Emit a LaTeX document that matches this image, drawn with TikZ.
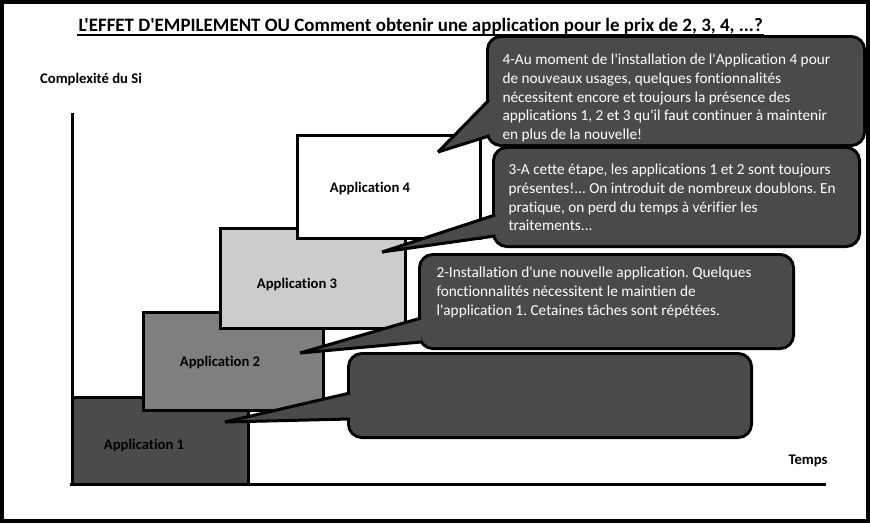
\documentclass[tikz,border=0pt]{standalone}
\usepackage{fontspec}
\setmainfont{Carlito}[Ligatures={TeXOff,NoCommon}]
\usetikzlibrary{calc}
\frenchspacing

\definecolor{gris1}{HTML}{4B4B4B}
\definecolor{gris2}{HTML}{7F7F7F}
\definecolor{gris3}{HTML}{CCCCCC}
\definecolor{bulle}{HTML}{4A4A4A}

\tikzset{
  appbox/.style={draw=black, line width=3pt},
  applabel/.style={font=\bfseries\fontsize{14.67}{17.9}\selectfont, inner sep=0pt},
  bulletext/.style={text=white, font=\fontsize{15.3}{18.7}\selectfont, align=left, anchor=north west, inner sep=0pt},
}

% bulle : x1, y1, x2, y2, haut de la pointe, bas de la pointe, pointe
\newcommand{\bulle}[7]{%
  \draw[line width=6pt, rounded corners=12pt] (#1,#2) rectangle (#3,#4);
  \fill[bulle, rounded corners=12pt] (#1,#2) rectangle (#3,#4);
  \fill[bulle] (#1,#5) -- (#7) -- (#1,#6) -- cycle;
  \draw (#7) -- (#1,#5); \draw (#7) -- (#1,#6);}

\begin{document}
\begin{tikzpicture}[x=1pt, y=-1pt, line width=3pt]
\useasboundingbox (0,0) rectangle (870,523);
\draw[line width=4pt] (2,2) rectangle (868,521);

\node[font=\bfseries\fontsize{18.95}{22}\selectfont, anchor=base west, inner sep=0pt] (titre) at (77,31) {L'EFFET D'EMPILEMENT OU Comment obtenir une application pour le prix de 2, 3, 4, ...?};
\draw[line width=2pt] ($(titre.base west)+(0,3.5)$) -- ($(titre.base east)+(0,3.5)$);

% axes
\coordinate (origine) at (72,484);
\draw ($(origine)+(-2,0)$) -- (826,484);
\draw (origine) -- (72,113);
\node[applabel] (axey) at (91,80) {Complexité du Si};
\node[applabel] (axex) at (808,461) {Temps};

% applications empilees
\foreach \n/\xa/\ya/\xb/\yb/\col/\lx/\ly in {1/72/397/248/484/gris1/144/445, 2/143/312/323/410/gris2/220/362, 3/220/228/405/328/gris3/297/284, 4/297/135/480/238/white/370/189}
{
  \filldraw[appbox, fill=\col] (\xa,\ya) rectangle (\xb,\yb);
  \node[applabel] (app\n) at (\lx,\ly) {Application \n};
}

% bulles
\coordinate (pointe1) at (225,422);
\coordinate (pointe2) at (300,353);
\coordinate (pointe3) at (382,252);
\coordinate (pointe4) at (438,152);

\bulle{350}{355}{750}{436}{393}{419}{pointe1}
\bulle{421}{256}{792}{347}{318}{342}{pointe2}
\bulle{495}{149}{858}{245}{215}{236}{pointe3}
\bulle{489}{38}{863}{144}{100}{136}{pointe4}

\node[bulletext] (texte2) at (435,265.5) {2-Installation d'une nouvelle application. Quelques\\fonctionnalités nécessitent le maintien de\\l'application 1. Cetaines tâches sont répétées.};
\node[bulletext] (texte3) at (507,162.5) {3-A cette étape, les applications 1 et 2 sont toujours\\présentes!... On introduit de nombreux doublons. En\\pratique, on perd du temps à vérifier les\\traitements...};
\node[bulletext] (texte4) at (501,52.5) {4-Au moment de l'installation de l'Application 4 pour\\de nouveaux usages, quelques fontionnalités\\nécessitent encore et toujours la présence des\\applications 1, 2 et 3 qu'il faut continuer à maintenir\\en plus de la nouvelle!};
\end{tikzpicture}
\end{document}
